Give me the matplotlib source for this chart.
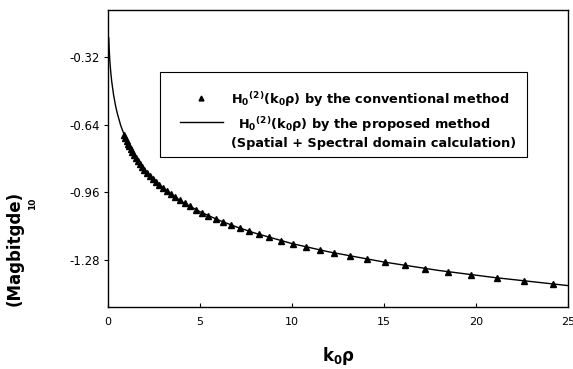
import matplotlib
matplotlib.use("Agg")
from matplotlib import pyplot as plt
from matplotlib.patches import Rectangle

plt.rcParams['font.family'] = ['DejaVu Sans']
plt.rcParams['mathtext.default'] = 'regular'

# solid curve: proposed method (spatial + spectral)
x_line = [0.04, 0.06, 0.08, 0.1, 0.15, 0.2, 0.3, 0.4, 0.5, 0.7, 1.0, 1.5, 2.0, 2.5,
          3, 4, 5, 6, 7, 8, 10, 12, 15, 18, 21, 25]
y_line = [-0.232, -0.277, -0.311, -0.340, -0.394, -0.436, -0.499, -0.547, -0.586,
          -0.647, -0.715, -0.797, -0.856, -0.903, -0.941, -1.003, -1.051, -1.090,
          -1.123, -1.152, -1.201, -1.240, -1.288, -1.328, -1.361, -1.399]

# triangles: conventional method
x_tri = [0.88, 0.94, 1.01, 1.08, 1.15, 1.23, 1.32, 1.41, 1.51, 1.62, 1.73, 1.85, 1.98,
         2.12, 2.27, 2.43, 2.60, 2.78, 2.97, 3.18, 3.40, 3.64, 3.90, 4.17, 4.46, 4.77,
         5.11, 5.46, 5.85, 6.25, 6.69, 7.16, 7.66, 8.20, 8.77, 9.39, 10.04, 10.75,
         11.50, 12.30, 13.16, 14.08, 15.07, 16.13, 17.26, 18.46, 19.76, 21.14, 22.62, 24.20]
y_tri = [-0.691, -0.704, -0.718, -0.731, -0.743, -0.757, -0.771, -0.784, -0.798, -0.813,
         -0.826, -0.840, -0.854, -0.868, -0.883, -0.897, -0.911, -0.925, -0.939, -0.954,
         -0.968, -0.983, -0.997, -1.012, -1.026, -1.041, -1.055, -1.070, -1.085, -1.099,
         -1.114, -1.128, -1.143, -1.158, -1.172, -1.187, -1.201, -1.216, -1.231, -1.245,
         -1.260, -1.275, -1.289, -1.304, -1.319, -1.333, -1.348, -1.363, -1.378, -1.392]

x_ticks = [0, 5, 10, 15, 20, 25]
y_ticks = [-0.32, -0.64, -0.96, -1.28]
y_ticklabels = ['-0.32', '-0.64', '-0.96', '-1.28']

lbl1 = 'H$_0$$^{(2)}$(k$_0$ρ) by the conventional method'
lbl2 = 'H$_0$$^{(2)}$(k$_0$ρ) by the proposed method'
lbl3 = '(Spatial + Spectral domain calculation)'

fig = plt.figure(figsize=(5.73, 3.69), dpi=100)
ax = fig.add_axes([0.1885, 0.168, 0.8025, 0.805])

ax.plot(x_line, y_line, color='black', linewidth=1.0)
ax.plot(x_tri, y_tri, linestyle='none', marker='^', color='black', markersize=3.8)

ax.set_xlim(0, 25)
ax.set_ylim(-1.5, -0.1)
ax.set_xticks(x_ticks)
ax.set_yticks(y_ticks)
ax.set_yticklabels(y_ticklabels)
ax.tick_params(axis='y', direction='out', length=3, width=0.8, labelsize=8.5, pad=3)
ax.tick_params(axis='x', direction='in', length=3, width=0.8, labelsize=8, pad=7)
for s in ax.spines.values():
    s.set_linewidth(1.0)

# legend box drawn by hand
ax.add_patch(Rectangle((0.113, 0.505), 0.798, 0.286, transform=ax.transAxes,
                       fill=False, edgecolor='black', linewidth=0.8))
ax.plot([0.202], [0.704], transform=ax.transAxes, marker='^', color='black',
        markersize=3.5, linestyle='none')
ax.plot([0.157, 0.250], [0.623, 0.623], transform=ax.transAxes, color='black', linewidth=1.0)
ax.text(0.267, 0.684, lbl1, transform=ax.transAxes, fontsize=9.3, fontweight='bold',
        va='baseline', ha='left')
ax.text(0.283, 0.599, lbl2, transform=ax.transAxes, fontsize=9.3, fontweight='bold',
        va='baseline', ha='left')
ax.text(0.267, 0.539, lbl3, transform=ax.transAxes, fontsize=9.3, fontweight='bold',
        va='baseline', ha='left')

fig.text(0.59, 0.035, 'k$_0$ρ', fontsize=12, fontweight='bold', ha='center', va='center')
fig.text(0.025, 0.328, '(Magbitgde)', fontsize=12, fontweight='bold', rotation=90,
         ha='center', va='center')
fig.text(0.056, 0.447, '10', fontsize=6.5, fontweight='bold', rotation=90,
         ha='center', va='center')

fig.savefig('out.png', dpi=100)
